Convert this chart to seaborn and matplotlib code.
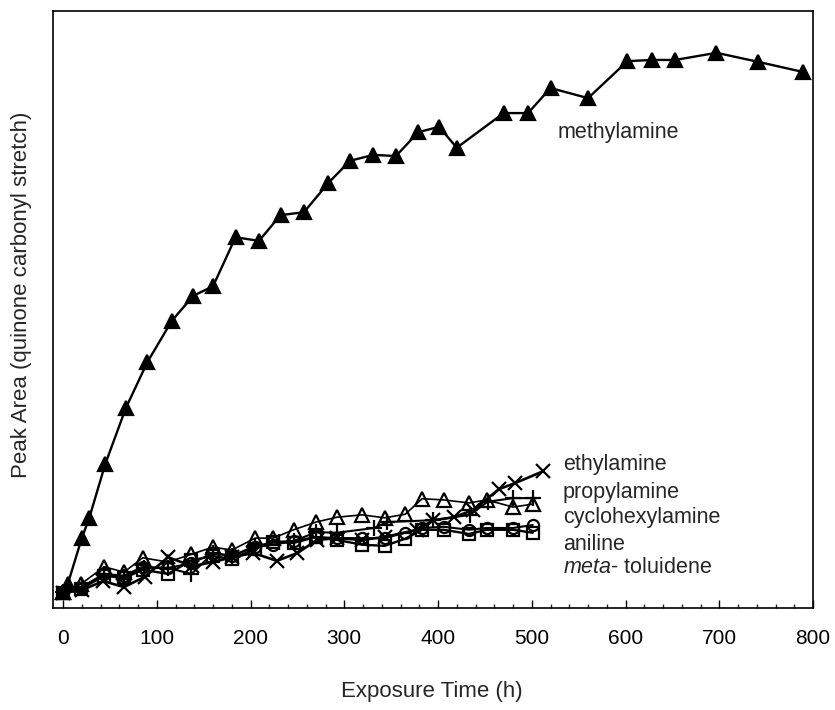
import matplotlib
matplotlib.use("Agg")
import matplotlib.pyplot as plt
import seaborn as sns
import pandas as pd

# data (peak area in arbitrary units, 0-100 axis)
t_methyl = [0, 5, 20, 28, 45, 67, 90, 116, 139, 160, 184, 209, 232, 257, 283, 306,
            331, 355, 379, 401, 420, 470, 496, 520, 560, 602, 628, 653, 697, 741, 789]
methylamine = [2.7, 4.0, 11.7, 15.1, 24.1, 33.5, 41.2, 48.1, 52.3, 53.9, 62.1, 61.5,
               65.8, 66.3, 71.2, 74.9, 75.9, 75.7, 79.7, 80.6, 77.1, 82.9, 82.9, 87.1,
               85.4, 91.6, 91.8, 91.8, 93.0, 91.5, 89.8]

t_ethyl = [0, 20, 43, 65, 87, 112, 138, 160, 180, 203, 228, 250, 271, 292, 319, 343,
           378, 395, 417, 437, 465, 482, 512]
ethylamine = [2.5, 3.0, 4.5, 3.5, 5.2, 8.5, 7.0, 7.7, 8.5, 9.2, 7.9, 9.2, 11.4, 11.7,
              11.4, 11.9, 13.1, 14.7, 15.2, 16.4, 19.9, 20.9, 22.9]

t_propyl = [0, 20, 44, 65, 86, 112, 137, 160, 180, 205, 230, 246, 270, 292, 332, 346,
            395, 434, 453, 480, 501]
propylamine = [2.7, 3.5, 5.7, 5.2, 6.7, 6.7, 5.7, 9.2, 8.7, 10.4, 11.1, 11.2, 12.7,
               12.6, 13.4, 14.4, 14.7, 15.6, 17.8, 18.4, 18.4]

t_common = [0, 19, 44, 65, 85, 112, 137, 160, 180, 205, 224, 246, 270, 292, 319, 343,
            365, 383, 406, 433, 452, 480, 501]
cyclohexylamine = [2.7, 4.0, 6.9, 6.0, 8.4, 7.7, 9.0, 10.2, 9.7, 11.7, 11.7, 13.1,
                   14.4, 15.2, 15.6, 15.1, 15.7, 18.3, 18.1, 17.6, 18.1, 16.9, 17.4]
aniline = [2.7, 3.4, 5.7, 5.4, 6.9, 6.7, 7.5, 9.2, 8.7, 10.2, 10.6, 11.2, 11.9, 11.7,
           11.7, 11.7, 12.6, 13.4, 13.6, 13.1, 13.4, 13.4, 13.9]
toluidene = [2.5, 3.2, 5.4, 5.0, 6.4, 5.7, 8.0, 8.7, 8.2, 9.9, 11.1, 10.9, 11.9, 11.4,
             10.6, 10.4, 11.6, 13.1, 13.1, 12.4, 13.1, 13.1, 12.6]

x_ticks = [0, 100, 200, 300, 400, 500, 600, 700, 800]

sns.set_theme(style="white")
plt.rcParams['font.family'] = ['Liberation Sans', 'DejaVu Sans']
plt.rcParams['mathtext.fontset'] = 'custom'
plt.rcParams['mathtext.it'] = 'Liberation Sans:italic'
plt.rcParams['mathtext.rm'] = 'Liberation Sans'

fig = plt.figure(figsize=(8.35, 7.1), dpi=100)
ax = fig.add_axes([0.0635, 0.1437, 0.9102, 0.8408])

series = [
    (t_common, toluidene, 's', 'none', 8.5, 1.7),
    (t_common, aniline, 'o', 'none', 8, 1.5),
    (t_common, cyclohexylamine, '^', 'none', 9.5, 1.2),
    (t_propyl, propylamine, '+', 'black', 12, 1.5),
    (t_ethyl, ethylamine, 'x', 'black', 9.5, 1.9),
    (t_methyl, methylamine, '^', 'black', 10, 1.7),
]
for t, v, m, fc, ms, lw in series:
    df = pd.DataFrame({'t': t, 'v': v})
    sns.lineplot(data=df, x='t', y='v', ax=ax, color='black', lw=lw, marker=m,
                 markersize=ms, markerfacecolor=fc, markeredgecolor='black',
                 markeredgewidth=1.6, sort=False, estimator=None)

ax.set_xlim(-10.7, 800)
ax.set_ylim(0, 100)
ax.set_xticks(x_ticks)
ax.set_xticks(range(0, 801, 20), minor=True)
ax.set_yticks([])
ax.tick_params(axis='x', which='major', direction='in', length=6, width=1,
               pad=15, labelsize=15, colors='black', bottom=True)
ax.tick_params(axis='x', which='minor', direction='in', length=3, width=1, bottom=True)
ax.set_xlabel('')
ax.set_ylabel('')
for s in ax.spines.values():
    s.set_color('black')
    s.set_linewidth(1.2)

ax.text(528, 79.6, 'methylamine', fontsize=15.5, va='center', ha='left')
labels = ['ethylamine', 'propylamine', 'cyclohexylamine', 'aniline',
          r'$\mathit{meta}$- toluidene']
label_y = [24.0, 19.4, 15.1, 10.7, 6.7]
for lab, yy in zip(labels, label_y):
    ax.text(533, yy, lab, fontsize=15.5, va='center', ha='left')

fig.text(432 / 835, 1 - 692 / 710, 'Exposure Time (h)', fontsize=16,
         ha='center', va='center')
fig.text(22 / 835, 1 - 295 / 710, 'Peak Area (quinone carbonyl stretch)',
         fontsize=16, ha='center', va='center', rotation=90)

fig.savefig('out.png', dpi=100)
